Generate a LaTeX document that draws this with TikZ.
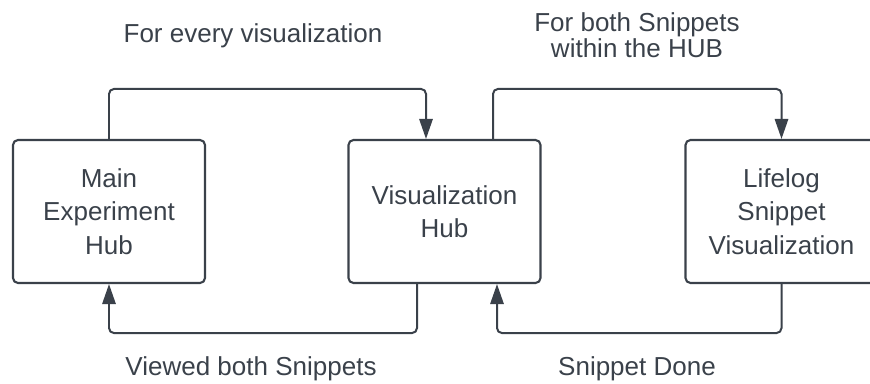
\documentclass[tikz,border=0pt]{standalone}
\usepackage{fontspec}
\setmainfont{Liberation Sans}
\usetikzlibrary{positioning}
\usetikzlibrary{calc}
\usetikzlibrary{arrows.meta}
\definecolor{ink colour}{HTML}{3A414A}
\tikzset{
    % Solid triangular tips, as in the flow chart
    >={Triangle[length=0.6cm, width=0.4cm]},
%
    % Connectors between the hubs
    flow/.style={color=ink colour, line width=1.7pt, rounded corners=0.15cm, ->},
    % We almost always want centre aligned node text
    every node/.style={align=center, text=ink colour},
}

\begin{document}
\begin{tikzpicture}[
    hub/.style={draw=ink colour, rectangle, line width=1.8pt, rounded corners=0.15cm,
        minimum width=5.76cm, minimum height=4.29cm, inner sep=0,
        font=\fontsize{22.2}{28.5}\selectfont},
    flow label/.style={font=\fontsize{22.2}{22.2}\selectfont},
    x=0.03cm, y=-0.03cm,
]
\useasboundingbox (0,0) rectangle (870,383);

\path
    (109,211.5) node (main hub) [hub] {Main\\Experiment\\Hub}
    ++(335.5,0) node (vis hub) [hub] {Visualization\\Hub}
    ++(337,0) node (snippet vis) [hub] {Lifelog\\Snippet\\Visualization};

\draw [flow] (main hub.north) -- ++(0,-50) -| ($(vis hub.north)+(-18.5,0)$);
\draw [flow] ($(vis hub.north)+(48.5,0)$) -- ++(0,-50) -| (snippet vis.north);
\draw [flow] ($(vis hub.south)+(-27.5,0)$) -- ++(0,49) -| (main hub.south);
\draw [flow] (snippet vis.south) -- ++(0,49) -| ($(vis hub.south)+(52.5,0)$);

% Labels above and below the loops
\path
    (253,42) node (every label) [flow label, anchor=base] {For every visualization}
    (637,35) node (both label) [flow label] {For both Snippets\\within the HUB}
    (251,375) node (viewed label) [flow label, anchor=base] {Viewed both Snippets}
    (637,375) node (done label) [flow label, anchor=base] {Snippet Done};

\end{tikzpicture}
\end{document}
